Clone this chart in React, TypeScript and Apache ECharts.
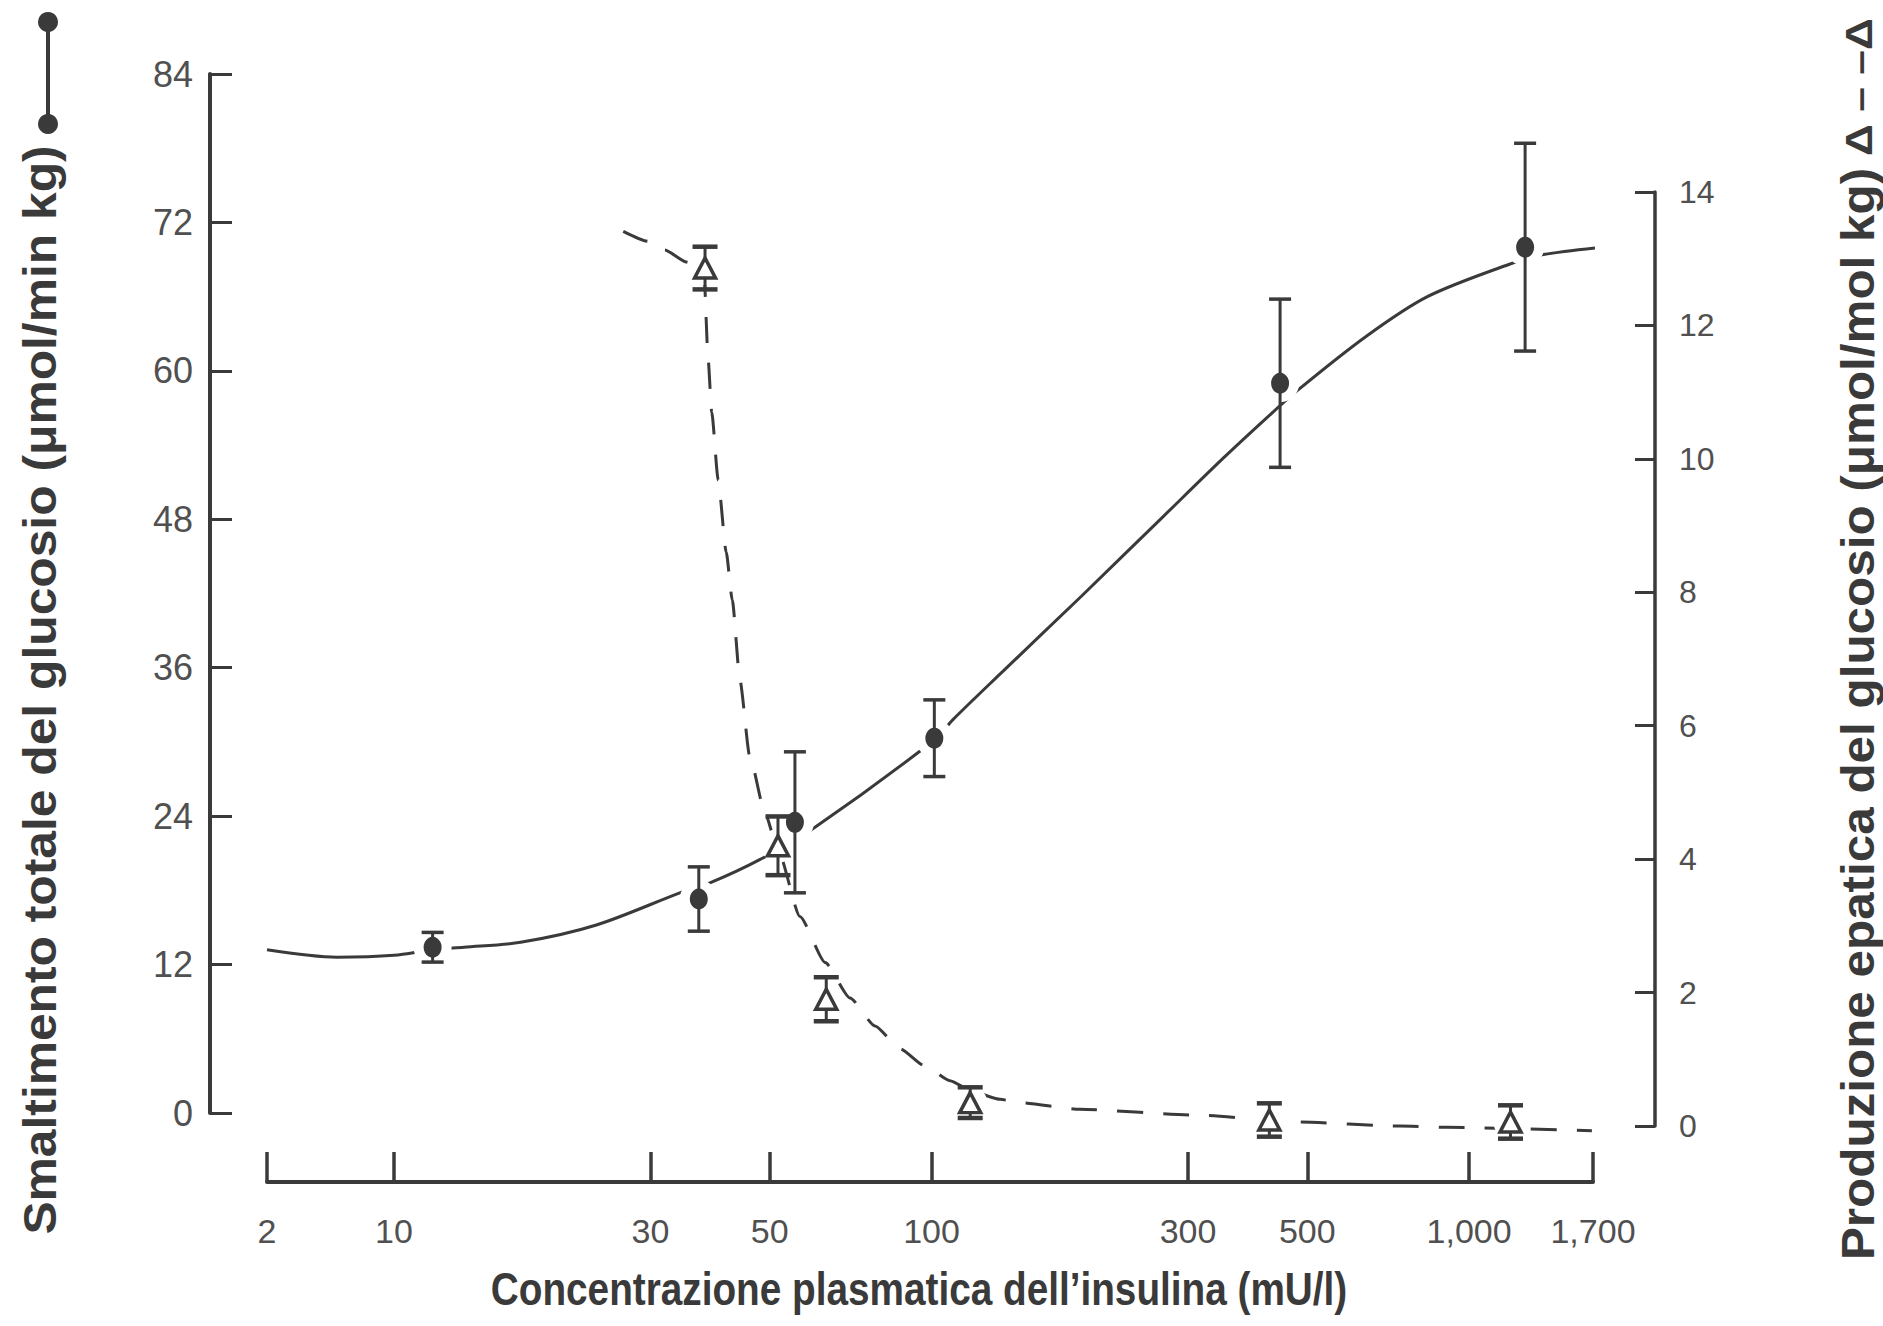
import React, { useEffect, useRef } from "react";
import * as echarts from "echarts";

// ---- data ----
// Total glucose disposal (left axis, μmol/min kg): measured points ± error
const disposalInsulin = [11.8, 36.9, 55.7, 101.2, 445, 1271];
const disposalMean = [13.4, 17.3, 23.5, 30.3, 59.0, 70.0];
const disposalErr = [1.2, 2.6, 5.7, 3.1, 6.8, 8.4];

// Hepatic glucose production (right axis): measured points ± error
const hepaticInsulin = [37.9, 51.8, 63.7, 118, 425, 1194];
const hepaticMean = [12.86, 4.2, 1.9, 0.35, 0.09, 0.06];
const hepaticErr = [0.32, 0.44, 0.33, 0.23, 0.25, 0.25];

// Hand-drawn fitted curves (solid and dashed)
const disposalCurveInsulin = [2, 6.4, 10, 11.8, 13.5, 17.2, 23.8, 34.5, 38.7, 48, 60.7, 101.5, 109.6, 134.2, 190.2, 269.4, 350, 420.2, 478.8, 643.9, 836.4, 1185, 1374, 1769];
const disposalCurveValue = [13.2, 12.6, 12.75, 13.2, 13.4, 13.8, 15.2, 17.9, 18.6, 20.5, 23.1, 30.2, 31.8, 35.5, 41.8, 48.2, 53.0, 56.2, 58.4, 62.8, 66.0, 68.6, 69.4, 70.0];

const hepaticCurveInsulin = [26.7, 29.7, 31.9, 35.0, 37.7, 38.4, 39.0, 40.1, 41.5, 42.6, 44.0, 45.9, 49.0, 51.8, 56.9, 63.4, 70.5, 78.5, 87.3, 97.2, 108.2, 120.4, 134.1, 146, 188.8, 315.7, 478, 743, 909, 1692];
const hepaticCurveValue = [13.41, 13.26, 13.13, 12.95, 12.86, 11.5, 10.7, 9.68, 8.6, 7.88, 6.69, 5.54, 4.69, 4.14, 3.14, 2.45, 1.92, 1.5, 1.16, 0.9, 0.68, 0.5, 0.4, 0.35, 0.25, 0.16, 0.06, 0.0, -0.02, -0.07];

// Axis ticks
const xTickValues = [2, 10, 30, 50, 100, 300, 500, 1000, 1700];
const xTickLabels = ["2", "10", "30", "50", "100", "300", "500", "1,000", "1,700"];
const leftMin = 0, leftMax = 84, leftStep = 12;
const rightMin = 0, rightMax = 14, rightStep = 2;

const X_TITLE = "Concentrazione plasmatica dell’insulina (mU/l)";
const LEFT_TITLE = "Smaltimento totale del glucosio (μmol/min kg)";
const RIGHT_TITLE = "Produzione epatica del glucosio (μmol/mol kg)";
const RIGHT_LEGEND = "Δ – –Δ";

// ---- broken log axis: 2 → 10 is a compressed segment, log10 from 10 on ----
const BREAK_U = 0.7638;
function toAxis(x: number): number {
  if (x >= 10) return Math.log10(x);
  return BREAK_U + ((x - 2) / 8) * (1 - BREAK_U);
}

const INK = "#3a3a3a";
const LABEL = "#505050";
const NARROW = "'Liberation Sans Narrow', 'Liberation Sans', Arial, sans-serif";
const SANS = "'Liberation Sans', Arial, sans-serif";

function measure(text: string, font: string): number {
  const ctx = document.createElement("canvas").getContext("2d");
  if (!ctx) return text.length * 20;
  ctx.font = font;
  return ctx.measureText(text).width;
}

function fitText(text: string, size: number, target: number, family = "Liberation Sans") {
  const w = measure(text, `bold ${size}px "${family}"`);
  return target / w;
}

function errorBars(cap: number, capWidth: number) {
  return (params: any, api: any) => {
    const x = api.value(0);
    const lo = api.coord([x, api.value(1)]);
    const hi = api.coord([x, api.value(2)]);
    const h = cap / 2;
    return {
      type: "group",
      children: [
        { type: "line", shape: { x1: hi[0], y1: hi[1], x2: lo[0], y2: lo[1] }, style: { stroke: INK, lineWidth: 3 } },
        { type: "line", shape: { x1: hi[0] - h, y1: hi[1], x2: hi[0] + h, y2: hi[1] }, style: { stroke: INK, lineWidth: capWidth } },
        { type: "line", shape: { x1: lo[0] - h, y1: lo[1], x2: lo[0] + h, y2: lo[1] }, style: { stroke: INK, lineWidth: capWidth } },
      ],
    };
  };
}

export default function App() {
  const ref = useRef<HTMLDivElement>(null);

  useEffect(() => {
    if (!ref.current) return;
    const chart = echarts.init(ref.current, undefined, { renderer: "svg" });

    const xMin = toAxis(xTickValues[0]);
    const xMax = toAxis(xTickValues[xTickValues.length - 1]);
    const tickU = xTickValues.map(toAxis);

    const disposalCurve = disposalCurveInsulin.map((x, i) => [toAxis(x), disposalCurveValue[i]]);
    const hepaticCurve = hepaticCurveInsulin.map((x, i) => [toAxis(x), hepaticCurveValue[i]]);
    const disposalPts = disposalInsulin.map((x, i) => [toAxis(x), disposalMean[i]]);
    const hepaticPts = hepaticInsulin.map((x, i) => [toAxis(x), hepaticMean[i]]);
    const disposalErrData = disposalInsulin.map((x, i) => [toAxis(x), disposalMean[i] - disposalErr[i], disposalMean[i] + disposalErr[i]]);
    const hepaticErrData = hepaticInsulin.map((x, i) => [toAxis(x), hepaticMean[i] - hepaticErr[i], hepaticMean[i] + hepaticErr[i]]);

    const titleSize = 46;
    const legendSize = 36;
    const xTitleScale = fitText(X_TITLE, titleSize, 857);
    const leftTitleScale = fitText(LEFT_TITLE, titleSize, 1090);
    const rightTitleScale = fitText(RIGHT_TITLE, titleSize, 1093);
    const legendScale = fitText(RIGHT_LEGEND, legendSize, 138);

    const option: any = {
      animation: false,
      backgroundColor: "#ffffff",
      grid: [
        { left: 267, right: 290, top: 74, bottom: 213, outerBoundsMode: "none" },
        { left: 267, right: 290, top: 192, bottom: 200, outerBoundsMode: "none" },
      ],
      xAxis: [
        {
          type: "value",
          gridIndex: 0,
          min: xMin,
          max: xMax,
          position: "bottom",
          offset: 69,
          splitLine: { show: false },
          axisLine: { show: true, onZero: false, lineStyle: { color: INK, width: 4 } },
          axisTick: { show: true, inside: true, length: 30, customValues: tickU, lineStyle: { color: INK, width: 3.5 } },
          axisLabel: {
            show: true,
            customValues: tickU,
            margin: 32,
            fontSize: 34,
            fontFamily: NARROW,
            color: LABEL,
            formatter: (v: number) => {
              const i = tickU.findIndex((t) => Math.abs(t - v) < 1e-4);
              return i >= 0 ? xTickLabels[i] : "";
            },
          },
        },
        { type: "value", gridIndex: 1, min: xMin, max: xMax, show: false },
      ],
      yAxis: [
        {
          type: "value",
          gridIndex: 0,
          min: leftMin,
          max: leftMax,
          interval: leftStep,
          position: "left",
          offset: 57,
          splitLine: { show: false },
          axisLine: { show: true, onZero: false, lineStyle: { color: INK, width: 4 } },
          axisTick: { show: true, inside: true, length: 22, lineStyle: { color: INK, width: 3 } },
          axisLabel: { margin: 17, fontSize: 36, fontFamily: NARROW, color: LABEL },
        },
        {
          type: "value",
          gridIndex: 1,
          min: rightMin,
          max: rightMax,
          interval: rightStep,
          position: "right",
          offset: 62,
          splitLine: { show: false },
          axisLine: { show: true, onZero: false, lineStyle: { color: INK, width: 3.5 } },
          axisTick: { show: true, inside: true, length: 20, lineStyle: { color: INK, width: 3 } },
          axisLabel: { margin: 24, fontSize: 32, fontFamily: NARROW, color: LABEL },
        },
      ],
      series: [
        {
          name: "Smaltimento (curva)",
          type: "line",
          xAxisIndex: 0,
          yAxisIndex: 0,
          data: disposalCurve,
          showSymbol: false,
          smooth: 0.3,
          clip: false,
          z: 1,
          lineStyle: { color: INK, width: 3 },
          silent: true,
        },
        {
          name: "Produzione (curva)",
          type: "line",
          xAxisIndex: 1,
          yAxisIndex: 1,
          data: hepaticCurve,
          showSymbol: false,
          smooth: 0.2,
          smoothMonotone: "x",
          clip: false,
          z: 1,
          lineStyle: { color: INK, width: 3, type: [26, 20] },
          silent: true,
        },
        {
          type: "scatter",
          xAxisIndex: 0,
          yAxisIndex: 0,
          data: disposalPts,
          symbol: "circle",
          symbolSize: 38,
          itemStyle: { color: "#ffffff", opacity: 1 },
          clip: false,
          silent: true,
          z: 2,
        },
        {
          type: "scatter",
          xAxisIndex: 1,
          yAxisIndex: 1,
          data: hepaticPts,
          symbol: "circle",
          symbolSize: 34,
          itemStyle: { color: "#ffffff", opacity: 1 },
          clip: false,
          silent: true,
          z: 2,
        },
        {
          type: "custom",
          xAxisIndex: 0,
          yAxisIndex: 0,
          data: disposalErrData,
          encode: { x: 0, y: [1, 2] },
          renderItem: errorBars(22, 3.5),
          clip: false,
          silent: true,
          z: 3,
        },
        {
          type: "custom",
          xAxisIndex: 1,
          yAxisIndex: 1,
          data: hepaticErrData,
          encode: { x: 0, y: [1, 2] },
          renderItem: errorBars(25, 4.5),
          clip: false,
          silent: true,
          z: 3,
        },
        {
          name: "Smaltimento totale del glucosio",
          type: "scatter",
          xAxisIndex: 0,
          yAxisIndex: 0,
          data: disposalPts,
          symbol: "circle",
          symbolSize: [18, 21],
          itemStyle: { color: INK, opacity: 1 },
          clip: false,
          z: 4,
        },
        {
          name: "Produzione epatica del glucosio",
          type: "scatter",
          xAxisIndex: 1,
          yAxisIndex: 1,
          data: hepaticPts,
          symbol: "triangle",
          symbolSize: [21, 20],
          itemStyle: { color: "#ffffff", borderColor: INK, borderWidth: 3.5, opacity: 1 },
          clip: false,
          z: 4,
        },
      ],
      graphic: [
        {
          type: "text",
          x: 919,
          y: 1289,
          scaleX: xTitleScale,
          style: { text: X_TITLE, fontFamily: SANS, fontWeight: "bold", fontSize: titleSize, fill: INK, align: "center", verticalAlign: "middle" },
        },
        {
          type: "text",
          x: 40,
          y: 690,
          rotation: Math.PI / 2,
          scaleX: leftTitleScale,
          style: { text: LEFT_TITLE, fontFamily: SANS, fontWeight: "bold", fontSize: titleSize, fill: INK, align: "center", verticalAlign: "middle" },
        },
        {
          type: "text",
          x: 1858,
          y: 714,
          rotation: Math.PI / 2,
          scaleX: rightTitleScale,
          style: { text: RIGHT_TITLE, fontFamily: SANS, fontWeight: "bold", fontSize: titleSize, fill: INK, align: "center", verticalAlign: "middle" },
        },
        {
          type: "text",
          x: 1860,
          y: 87,
          rotation: Math.PI / 2,
          scaleX: legendScale,
          style: { text: RIGHT_LEGEND, fontFamily: SANS, fontWeight: "bold", fontSize: legendSize, fill: INK, align: "center", verticalAlign: "middle" },
        },
        { type: "line", shape: { x1: 48, y1: 22, x2: 48, y2: 124 }, style: { stroke: INK, lineWidth: 4 } },
        { type: "circle", shape: { cx: 48, cy: 22, r: 10 }, style: { fill: INK } },
        { type: "circle", shape: { cx: 48, cy: 124, r: 10 }, style: { fill: INK } },
      ],
    };

    chart.setOption(option);
    return () => chart.dispose();
  }, []);

  return (
    <div
      ref={ref}
      style={{ position: "absolute", left: 0, top: 0, width: 1883, height: 1326, background: "#fff" }}
    />
  );
}
